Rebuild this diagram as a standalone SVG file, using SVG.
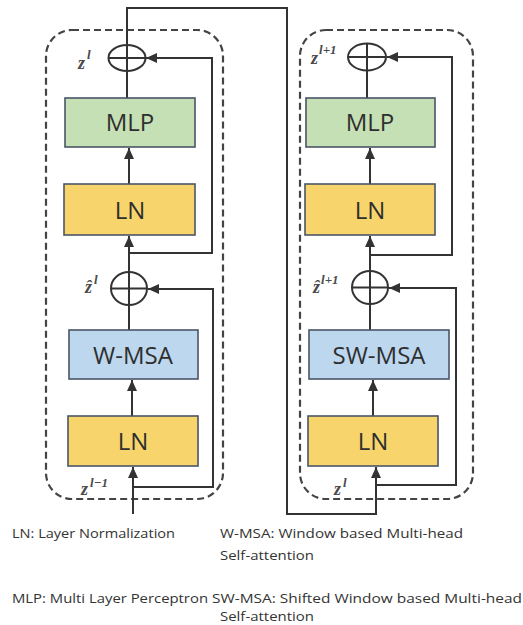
<svg xmlns="http://www.w3.org/2000/svg" width="523" height="625" viewBox="0 0 523 625">
<style>
.frame{fill:none;stroke:#444;stroke-width:2.2;stroke-dasharray:7,4}
.box{stroke:#4a5568;stroke-width:1.6}
.mlp{fill:#c5e0b4}
.ln{fill:#f7d56c}
.msa{fill:#bdd7ee}
.lbl{font-family:"Open Sans","Liberation Sans",sans-serif;font-size:24px;fill:#2e2e2e;text-anchor:middle}
.con{fill:none;stroke:#333;stroke-width:2}
.add{fill:none;stroke:#333;stroke-width:2}
.m{font-family:"Liberation Serif",serif;font-style:italic;font-weight:bold;font-size:18px;fill:#4a4a4a}
.sup{font-size:13px}
.leg{font-family:"Open Sans","Liberation Sans",sans-serif;font-size:13px;fill:#333}
</style>
<defs>
<marker id="arr" markerUnits="userSpaceOnUse" markerWidth="12" markerHeight="12" refX="11" refY="5" orient="auto">
<path d="M0,0 L11,5 L0,10 Z" fill="#333"/>
</marker>
</defs>

<g id="frame-left"><rect class="frame" x="46" y="30" width="177" height="469" rx="26"/></g>
<g id="frame-right"><rect class="frame" x="300" y="30" width="173" height="469" rx="26"/></g>

<g id="connectors">
<path class="con" d="M127,98 V8 H287 V514 H376 V467" marker-end="url(#arr)"/>
<path class="con" d="M129,184 V148" marker-end="url(#arr)"/>
<path class="con" d="M129,330 V236" marker-end="url(#arr)"/>
<path class="con" d="M132,416 V380" marker-end="url(#arr)"/>
<path class="con" d="M133,514 V467" marker-end="url(#arr)"/>
<path class="con" d="M129,253 H212 V58 H146" marker-end="url(#arr)"/>
<path class="con" d="M133,487 H213 V289 H148" marker-end="url(#arr)"/>
<path class="con" d="M367,98 V70"/>
<path class="con" d="M370,184 V148" marker-end="url(#arr)"/>
<path class="con" d="M370,330 V236" marker-end="url(#arr)"/>
<path class="con" d="M373,416 V380" marker-end="url(#arr)"/>
<path class="con" d="M370,255 H452 V57 H387" marker-end="url(#arr)"/>
<path class="con" d="M376,485 H456 V288 H389" marker-end="url(#arr)"/>
</g>

<g id="add-left-top">
<ellipse class="add" cx="127" cy="58" rx="18.5" ry="13"/>
<path class="add" d="M108.5,58 H145.5"/>
<text class="m" x="78" y="69">z<tspan class="sup" dx="2" dy="-10">l</tspan></text>
</g>
<g id="add-left-mid">
<ellipse class="add" cx="129" cy="288.5" rx="18" ry="16.5"/>
<path class="add" d="M111,288.5 H147"/>
<text class="m" x="85" y="293">ẑ<tspan class="sup" dx="2" dy="-9">l</tspan></text>
</g>
<g id="add-right-top">
<ellipse class="add" cx="367" cy="57" rx="19" ry="13.5"/>
<path class="add" d="M348,57 H386 M367,43.5 V70"/>
<text class="m" x="311" y="64">z<tspan class="sup" dx="1" dy="-10">l+1</tspan></text>
</g>
<g id="add-right-mid">
<ellipse class="add" cx="370" cy="287.5" rx="18" ry="16.5"/>
<path class="add" d="M352,287.5 H388"/>
<text class="m" x="313" y="293">ẑ<tspan class="sup" dx="1" dy="-9">l+1</tspan></text>
</g>

<g id="mlp-left"><rect class="box mlp" x="65" y="98" width="130" height="49"/><text class="lbl" x="130" y="131">MLP</text></g>
<g id="ln-left-top"><rect class="box ln" x="64" y="184" width="131" height="51"/><text class="lbl" x="130" y="219">LN</text></g>
<g id="wmsa"><rect class="box msa" x="69" y="330" width="129" height="49"/><text class="lbl" x="133" y="364">W-MSA</text></g>
<g id="ln-left-bottom"><rect class="box ln" x="68" y="416" width="130" height="50"/><text class="lbl" x="133" y="450">LN</text></g>
<text class="m" x="81" y="495">z<tspan class="sup" dx="2" dy="-8">l−1</tspan></text>

<g id="mlp-right"><rect class="box mlp" x="306" y="98" width="129" height="49"/><text class="lbl" x="370" y="131">MLP</text></g>
<g id="ln-right-top"><rect class="box ln" x="305" y="184" width="130" height="51"/><text class="lbl" x="370" y="219">LN</text></g>
<g id="swmsa"><rect class="box msa" x="309" y="330" width="140" height="49"/><text class="lbl" x="379" y="364">SW-MSA</text></g>
<g id="ln-right-bottom"><rect class="box ln" x="308" y="416" width="130" height="50"/><text class="lbl" x="373" y="450">LN</text></g>
<text class="m" x="334" y="495">z<tspan class="sup" dx="2" dy="-8">l</tspan></text>

<g id="legend">
<text class="leg" x="12" y="538" textLength="163" lengthAdjust="spacingAndGlyphs">LN: Layer Normalization</text>
<text class="leg" x="220" y="538" textLength="243" lengthAdjust="spacingAndGlyphs">W-MSA: Window based Multi-head</text>
<text class="leg" x="220" y="560" textLength="94" lengthAdjust="spacingAndGlyphs">Self-attention</text>
<text class="leg" x="12" y="603" textLength="196" lengthAdjust="spacingAndGlyphs">MLP: Multi Layer Perceptron</text>
<text class="leg" x="212" y="603" textLength="310" lengthAdjust="spacingAndGlyphs">SW-MSA: Shifted Window based Multi-head</text>
<text class="leg" x="220" y="621" textLength="94" lengthAdjust="spacingAndGlyphs">Self-attention</text>
</g>
</svg>
